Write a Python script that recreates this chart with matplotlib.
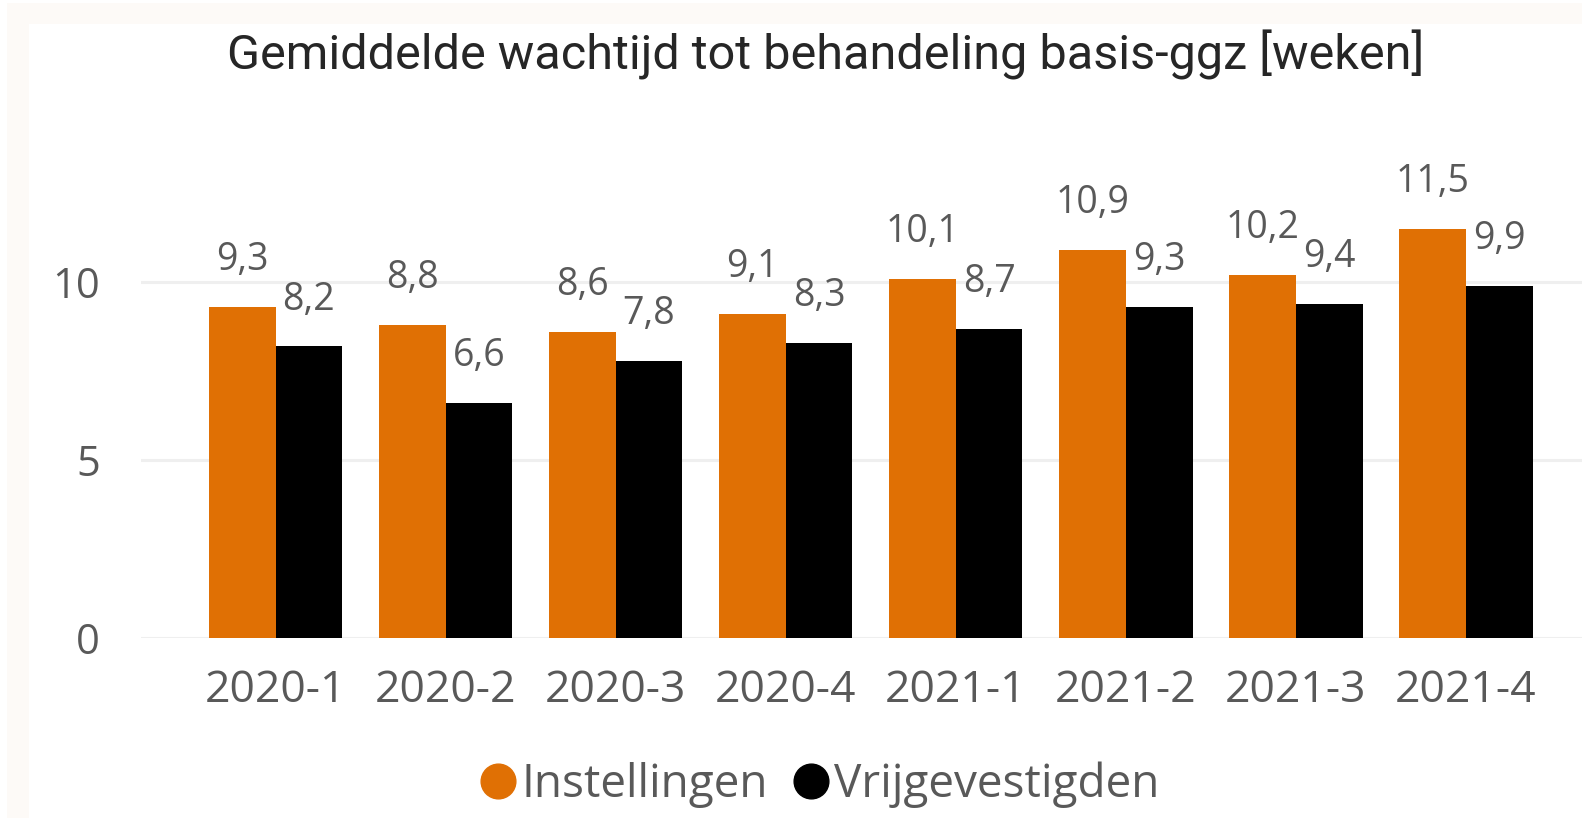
import matplotlib
matplotlib.use('Agg')
import numpy as np
import matplotlib.pyplot as plt
from matplotlib.lines import Line2D
from matplotlib.patches import Rectangle

kwartalen = ['2020-1', '2020-2', '2020-3', '2020-4', '2021-1', '2021-2', '2021-3', '2021-4']
instellingen = [9.3, 8.8, 8.6, 9.1, 10.1, 10.9, 10.2, 11.5]
vrijgevestigden = [8.2, 6.6, 7.8, 8.3, 8.7, 9.3, 9.4, 9.9]
yticks = [0, 5, 10]
titel = 'Gemiddelde wachtijd tot behandeling basis-ggz [weken]'

ORANJE = '#E07004'
ZWART = '#000000'
GRIJS = '#595959'
FONT = ['Open Sans', 'DejaVu Sans']

fig = plt.figure(figsize=(15.82, 8.18), dpi=100)
fig.patch.set_facecolor('white')
# faint frame of the original screenshot
fig.add_artist(Rectangle((7 / 1582, 0), 1, 1 - 3 / 818, transform=fig.transFigure,
                         facecolor='#FDFAF7', edgecolor='none', zorder=-2))
fig.add_artist(Rectangle((29 / 1582, 0), 1, 1 - 24 / 818, transform=fig.transFigure,
                         facecolor='white', edgecolor='none', zorder=-1))

ax = fig.add_axes([141 / 1582, 180 / 818, 1441 / 1582, 498 / 818])
ax.set_facecolor('none')
x = np.arange(len(kwartalen))
w = 0.392
b1 = ax.bar(x - w / 2, instellingen, w, color=ORANJE, zorder=2)
b2 = ax.bar(x + w / 2, vrijgevestigden, w, color=ZWART, zorder=2)

for bars, vals in ((b1, instellingen), (b2, vrijgevestigden)):
    for r, v in zip(bars, vals):
        ax.annotate(f'{v:.1f}'.replace('.', ','), (r.get_x() + r.get_width() / 2, v),
                    xytext=(0, 26.5), textcoords='offset points', ha='center', va='baseline',
                    fontsize=27, color=GRIJS, family=FONT)

ax.set_xlim(-0.791, 7.682)
ax.set_ylim(0, 14)
ax.set_yticks(yticks)
ax.set_yticklabels([str(t) for t in yticks], fontsize=30, color=GRIJS, family=FONT)
ax.set_xticks(x)
ax.set_xticklabels(kwartalen, fontsize=32, color=GRIJS, family=FONT)
ax.tick_params(axis='y', length=0, pad=29.5)
ax.tick_params(axis='x', length=0, pad=22)
ax.grid(axis='y', color='#EFEFEF', lw=2.2, zorder=0)
for s in ax.spines.values():
    s.set_visible(False)

fig.text(826 / 1582, 1 - 69 / 818, titel, ha='center', va='baseline', fontsize=35,
         color='#262626', family=['Roboto', 'DejaVu Sans'])

handles = [Line2D([], [], ls='none', marker='o', ms=25, color=ORANJE, label='Instellingen'),
           Line2D([], [], ls='none', marker='o', ms=25, color=ZWART, label='Vrijgevestigden')]
fig.legend(handles=handles, loc='center', bbox_to_anchor=(821 / 1582, 1 - 785 / 818), ncol=2,
           frameon=False, handlelength=0.7, handletextpad=0.15, columnspacing=0.6,
           prop={'family': FONT, 'size': 33}, labelcolor=GRIJS)

fig.savefig('out.png', dpi=100)
